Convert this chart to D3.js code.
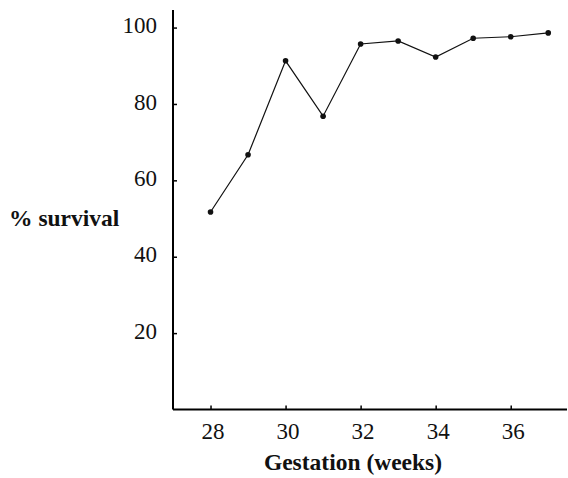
<!DOCTYPE html>
<html>
<head>
<meta charset="utf-8">
<script src="https://cdn.jsdelivr.net/npm/d3@7"></script>
<style>
  body { margin: 0; background: #fff; }
</style>
</head>
<body>
<script>
// data
var weeks = [28, 29, 30, 31, 32, 33, 34, 35, 36, 37];
var survival = [51.7, 66.7, 91.3, 76.8, 95.7, 96.5, 92.3, 97.2, 97.6, 98.6];
var xTicks = [28, 30, 32, 34, 36];
var yTicks = [20, 40, 60, 80, 100];

var width = 568, height = 478;
var margin = { top: 10, right: 1, bottom: 69, left: 173 };
var serif = "Liberation Serif";

var svg = d3.select("body").append("svg")
  .attr("width", width)
  .attr("height", height);

var x = d3.scaleLinear().domain([27, 37.5]).range([margin.left, width - margin.right]);
var y = d3.scaleLinear().domain([0, 104.6]).range([height - margin.bottom + 0.5, margin.top]);

var data = weeks.map(function(w, i) { return { week: w, value: survival[i] }; });

// y axis, ticks pointing inward
var yAxis = svg.append("g")
  .attr("transform", "translate(" + margin.left + ",0)")
  .call(d3.axisRight(y).tickValues(yTicks).tickSize(4).tickFormat(""));
yAxis.select(".domain").attr("stroke-width", 2).attr("d", "M0," + y.range()[0] + "V" + y.range()[1]);
yAxis.selectAll(".tick line").attr("stroke-width", 1.5);

yAxis.selectAll(".tick").append("text")
  .attr("x", -16)
  .attr("y", -3)
  .attr("dy", "0.35em")
  .attr("text-anchor", "end")
  .attr("fill", "#111")
  .attr("font-family", serif)
  .attr("font-size", 23)
  .text(function(d) { return d; });

// x axis, ticks pointing up
var xAxis = svg.append("g")
  .attr("transform", "translate(0," + y(0) + ")")
  .call(d3.axisTop(x).tickValues(xTicks).tickSize(4).tickFormat(""));
xAxis.select(".domain").attr("stroke-width", 2).attr("d", "M" + x.range()[0] + ",0H" + x.range()[1]);
xAxis.selectAll(".tick line").attr("stroke-width", 1.5);

xAxis.selectAll(".tick").append("text")
  .attr("x", 2)
  .attr("y", 29)
  .attr("text-anchor", "middle")
  .attr("fill", "#111")
  .attr("font-family", serif)
  .attr("font-size", 23)
  .text(function(d) { return d; });

// line
var line = d3.line()
  .x(function(d) { return x(d.week); })
  .y(function(d) { return y(d.value); });

svg.append("path")
  .datum(data)
  .attr("fill", "none")
  .attr("stroke", "#111")
  .attr("stroke-width", 1.2)
  .attr("d", line);

svg.selectAll(".dot")
  .data(data)
  .enter().append("circle")
  .attr("class", "dot")
  .attr("cx", function(d) { return x(d.week); })
  .attr("cy", function(d) { return y(d.value); })
  .attr("r", 2.8)
  .attr("fill", "#111");

// axis titles
svg.append("text")
  .attr("x", 9)
  .attr("y", 226)
  .attr("fill", "#111")
  .attr("font-family", serif)
  .attr("font-size", 23.5)
  .attr("font-weight", "bold")
  .text("% survival");

svg.append("text")
  .attr("x", 353)
  .attr("y", 470)
  .attr("text-anchor", "middle")
  .attr("fill", "#111")
  .attr("font-family", serif)
  .attr("font-size", 23.5)
  .attr("font-weight", "bold")
  .text("Gestation (weeks)");
</script>
</body>
</html>
